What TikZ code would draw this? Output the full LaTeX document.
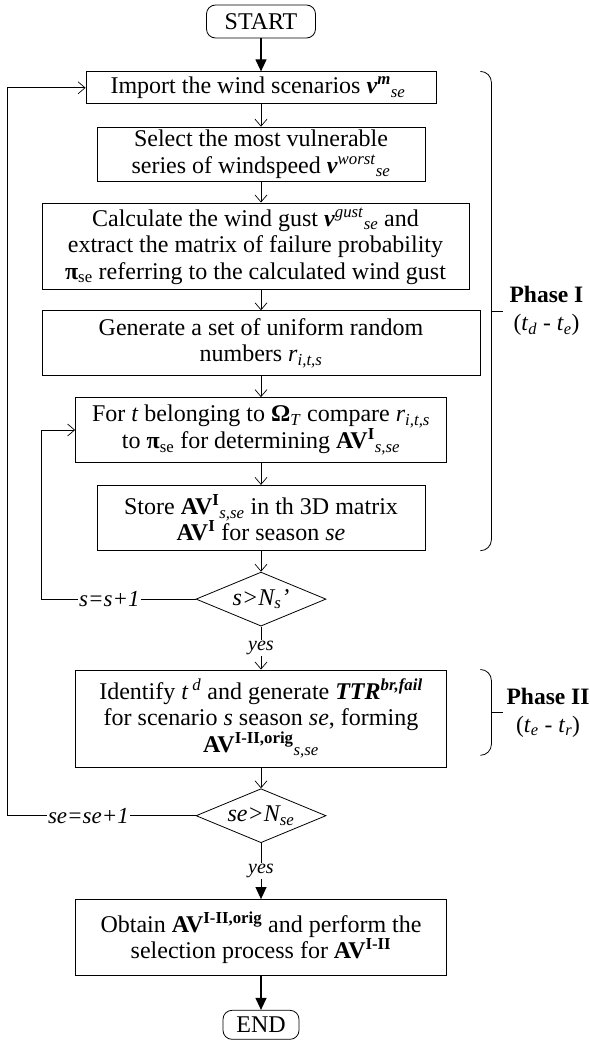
\documentclass[tikz,border=0pt]{standalone}
\usepackage{fontspec}
\setmainfont{Liberation Serif}
\usetikzlibrary{shapes.geometric, arrows.meta, positioning, calc}
\newcommand{\supsub}[2]{\textsuperscript{#1}\textsubscript{#2}}
\newcommand{\bv}{\textbf{\textit{v}}}

\begin{document}
\begin{tikzpicture}[x=1pt, y=1pt, >=Stealth,
    every node/.style={font=\fontsize{24}{26.5}\selectfont},
    proc/.style={draw, line width=0.8pt, align=center, inner sep=1pt},
    term/.style={draw, line width=0.8pt, rounded corners=9pt, inner sep=1pt},
    decide/.style={draw, line width=0.8pt, diamond, aspect=2.4, inner sep=0pt, minimum width=130pt, minimum height=54pt},
    thinarr/.style={-{Straight Barb[length=7pt,width=12pt]}, line width=0.7pt},
    boldarr/.style={-{Triangle[length=12pt,width=11pt]}, line width=1.2pt},
    loopline/.style={line width=0.8pt},
    lbl/.style={fill=white, inner sep=1pt, font=\fontsize{23}{26}\selectfont\itshape},
    yeslbl/.style={fill=white, inner sep=1pt, font=\fontsize{20}{24}\selectfont\itshape},
    phase/.style={anchor=west, align=center, inner sep=1pt, font=\fontsize{23.5}{28}\selectfont}]
  \useasboundingbox (0,0) rectangle (589,-1041);

  % Nodes
  \node[term, minimum width=109pt, minimum height=33pt] (start) at (261,-21.5) {START};

  \node[proc, minimum width=350pt, minimum height=32pt, below=33pt of start] (import) {
    Import the wind scenarios \bv\supsub{\textbf{\textit{m}}}{\textit{se}}
  };

  \node[proc, minimum width=328pt, minimum height=54pt, below=22.5pt of import] (select) {
    Select the most vulnerable\\
    series of windspeed \bv\supsub{\textit{worst}}{\textit{se}}
  };

  \node[proc, minimum width=427pt, minimum height=86pt, below=21pt of select, xshift=-5.5pt] (gust) {
    Calculate the wind gust \bv\supsub{\textit{gust}}{\textit{se}} and\\
    extract the matrix of failure probability\\
    \textbf{π}\textsubscript{se} referring to the calculated wind gust
  };

  \node[proc, minimum width=438pt, minimum height=65pt, below=21pt of gust, xshift=5.5pt] (rand) {
    Generate a set of uniform random\\
    numbers \textit{r}\textsubscript{\textit{i,t,s}}
  };

  \node[proc, minimum width=371pt, minimum height=65pt, below=21pt of rand] (compare) {
    For \textit{t} belonging to \textbf{Ω}\textsubscript{\textit{T}} compare \textit{r}\textsubscript{\textit{i,t,s}}\\
    to \textbf{π}\textsubscript{se} for determining \textbf{AV}\supsub{\textbf{I}}{\textit{s,se}}
  };

  \node[proc, minimum width=328pt, minimum height=65pt, below=22pt of compare] (store) {
    Store \textbf{AV}\supsub{\textbf{I}}{\textit{s,se}} in th 3D matrix\\
    \textbf{AV}\textsuperscript{\textbf{I}} for season \textit{se}
  };

  \node[decide, below=21pt of store] (chks) {\textit{s>N\textsubscript{s}’}};

  \node[proc, minimum width=371pt, minimum height=97pt, below=43pt of chks] (ident) {
    Identify \textit{t}\,\textsuperscript{\textit{d}} and generate \textbf{\textit{TTR}}\textsuperscript{\textbf{\textit{br,fail}}}\\
    for scenario \textit{s} season \textit{se}, forming\\
    \textbf{AV}\supsub{\textbf{I-II,orig}}{\textit{s,se}}
  };

  \node[decide, below=21pt of ident] (chkse) {\textit{se>N\textsubscript{se}}};

  \node[proc, minimum width=371pt, minimum height=76pt, below=56pt of chkse] (obtain) {
    Obtain \textbf{AV}\textsuperscript{\textbf{I-II,orig}} and perform the\\
    selection process for \textbf{AV}\textsuperscript{\textbf{I-II}}
  };

  \node[term, minimum width=76pt, minimum height=29pt, below=34pt of obtain] (end) {END};

  % Turning points of the loops
  \coordinate (sturn) at ($(chks.west)+(-154,0)$);
  \coordinate (seturn) at ($(chkse.west)+(-188,0)$);

  % Arrows
  \draw[boldarr] (start) -- (import);
  \draw[thinarr] (import) -- (select);
  \draw[thinarr] (select.south) -- (select.south |- gust.north);
  \draw[thinarr] (select.south |- gust.south) -- (rand.north);
  \draw[thinarr] (rand) -- (compare);
  \draw[thinarr] (compare) -- (store);
  \draw[thinarr] (store) -- (chks);
  \draw[thinarr] (chks) -- node[yeslbl] {yes} (ident);
  \draw[thinarr] (ident) -- (chkse);
  \draw[boldarr, line width=0.8pt] (chkse) -- node[yeslbl] {yes} (obtain);
  \draw[boldarr] (obtain) -- (end);
  \draw[thinarr] (chks.west) -- node[lbl, pos=0.56] {s=s+1} (sturn) |- (compare.west);
  \draw[thinarr] (chkse.west) -- node[lbl, pos=0.57] {se=se+1} (seturn) |- (import.west);

  % Phase brackets
  \coordinate (b1top) at ($(rand.east |- import.north)$);
  \coordinate (b1bot) at ($(rand.east |- store.south)$);
  \coordinate (b1mid) at ($(b1top)!0.5!(b1bot)+(11,0)$);
  \draw[loopline, rounded corners=11pt] (b1top) -- ++(11,0) -- ($(b1bot)+(11,0)$) -- (b1bot);
  \draw[loopline] (b1mid) -- ++(12,0) coordinate (t1);
  \node[phase, xshift=5pt] (ph1) at (t1) {\textbf{Phase I}\\(\textit{t}\textsubscript{\textit{d}} - \textit{t}\textsubscript{\textit{e}})};

  \coordinate (b2top) at ($(rand.east |- ident.north)$);
  \coordinate (b2bot) at ($(rand.east |- ident.south)+(0,12)$);
  \coordinate (b2mid) at ($(b2top)!0.5!(b2bot)+(11,0)$);
  \draw[loopline, rounded corners=11pt] (b2top) -- ++(11,0) -- ($(b2bot)+(11,0)$) -- (b2bot);
  \draw[loopline] (b2mid) -- ++(12,0) coordinate (t2);
  \node[phase, xshift=2pt] (ph2) at (t2) {\textbf{Phase II}\\(\textit{t}\textsubscript{\textit{e}} - \textit{t}\textsubscript{\textit{r}})};
\end{tikzpicture}
\end{document}
